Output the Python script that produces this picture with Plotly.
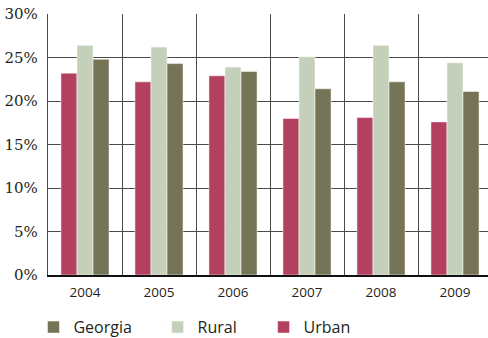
import plotly.graph_objects as go

years = ["2004", "2005", "2006", "2007", "2008", "2009"]
urban = [23.2, 22.2, 22.9, 18.0, 18.1, 17.6]
rural = [26.4, 26.2, 23.9, 25.1, 26.4, 24.4]
georgia = [24.8, 24.3, 23.4, 21.4, 22.2, 21.1]
y_ticks = [0, 5, 10, 15, 20, 25, 30]
y_tick_text = [f"{v}%" for v in y_ticks]

colors = {"Urban": "#b4405f", "Rural": "#c5d0ba", "Georgia": "#767457"}
# each series gets its own legend box so the entries can be spaced freely
legend_ids = {"Georgia": "legend", "Rural": "legend2", "Urban": "legend3"}
legend_x = {"legend": -0.033, "legend2": 0.249, "legend3": 0.490}

fig = go.Figure()
for name, vals in [("Urban", urban), ("Rural", rural), ("Georgia", georgia)]:
    fig.add_trace(go.Bar(
        x=years, y=vals, name=name, legend=legend_ids[name],
        marker=dict(color=colors[name], line=dict(color="rgba(255,255,255,0.5)", width=1)),
    ))

legend_font = dict(family="Open Sans", size=16, color="#231f20")
legends = {
    key: dict(
        orientation="h", x=xv, xanchor="left",
        yref="container", y=0.032, yanchor="middle",
        font=legend_font, itemclick=False, bgcolor="rgba(0,0,0,0)",
    )
    for key, xv in legend_x.items()
}

fig.update_layout(
    width=488, height=338,
    margin=dict(l=48, r=0, t=14, b=63),
    paper_bgcolor="white", plot_bgcolor="white",
    barmode="group", bargap=0.35, bargroupgap=0,
    showlegend=True,
    **legends,
    xaxis=dict(
        type="category", range=[-0.5, 5.446],
        tickson="boundaries", showgrid=True, gridcolor="#4a4a4a", gridwidth=1.3,
        ticks="", showline=True, linecolor="#111", linewidth=1.5,
        ticklabelstandoff=4,
        tickfont=dict(family="Open Sans", size=13.5, color="#231f20"),
    ),
    yaxis=dict(
        range=[0, 30], tickvals=y_ticks, ticktext=y_tick_text,
        showgrid=True, gridcolor="#4a4a4a", gridwidth=1.3, zeroline=False,
        showline=True, linecolor="#4a4a4a", linewidth=1.3,
        ticks="", ticklabelstandoff=6,
        tickfont=dict(family="DejaVu Serif", size=15, color="#231f20"),
    ),
)

fig.write_html("out.html")
